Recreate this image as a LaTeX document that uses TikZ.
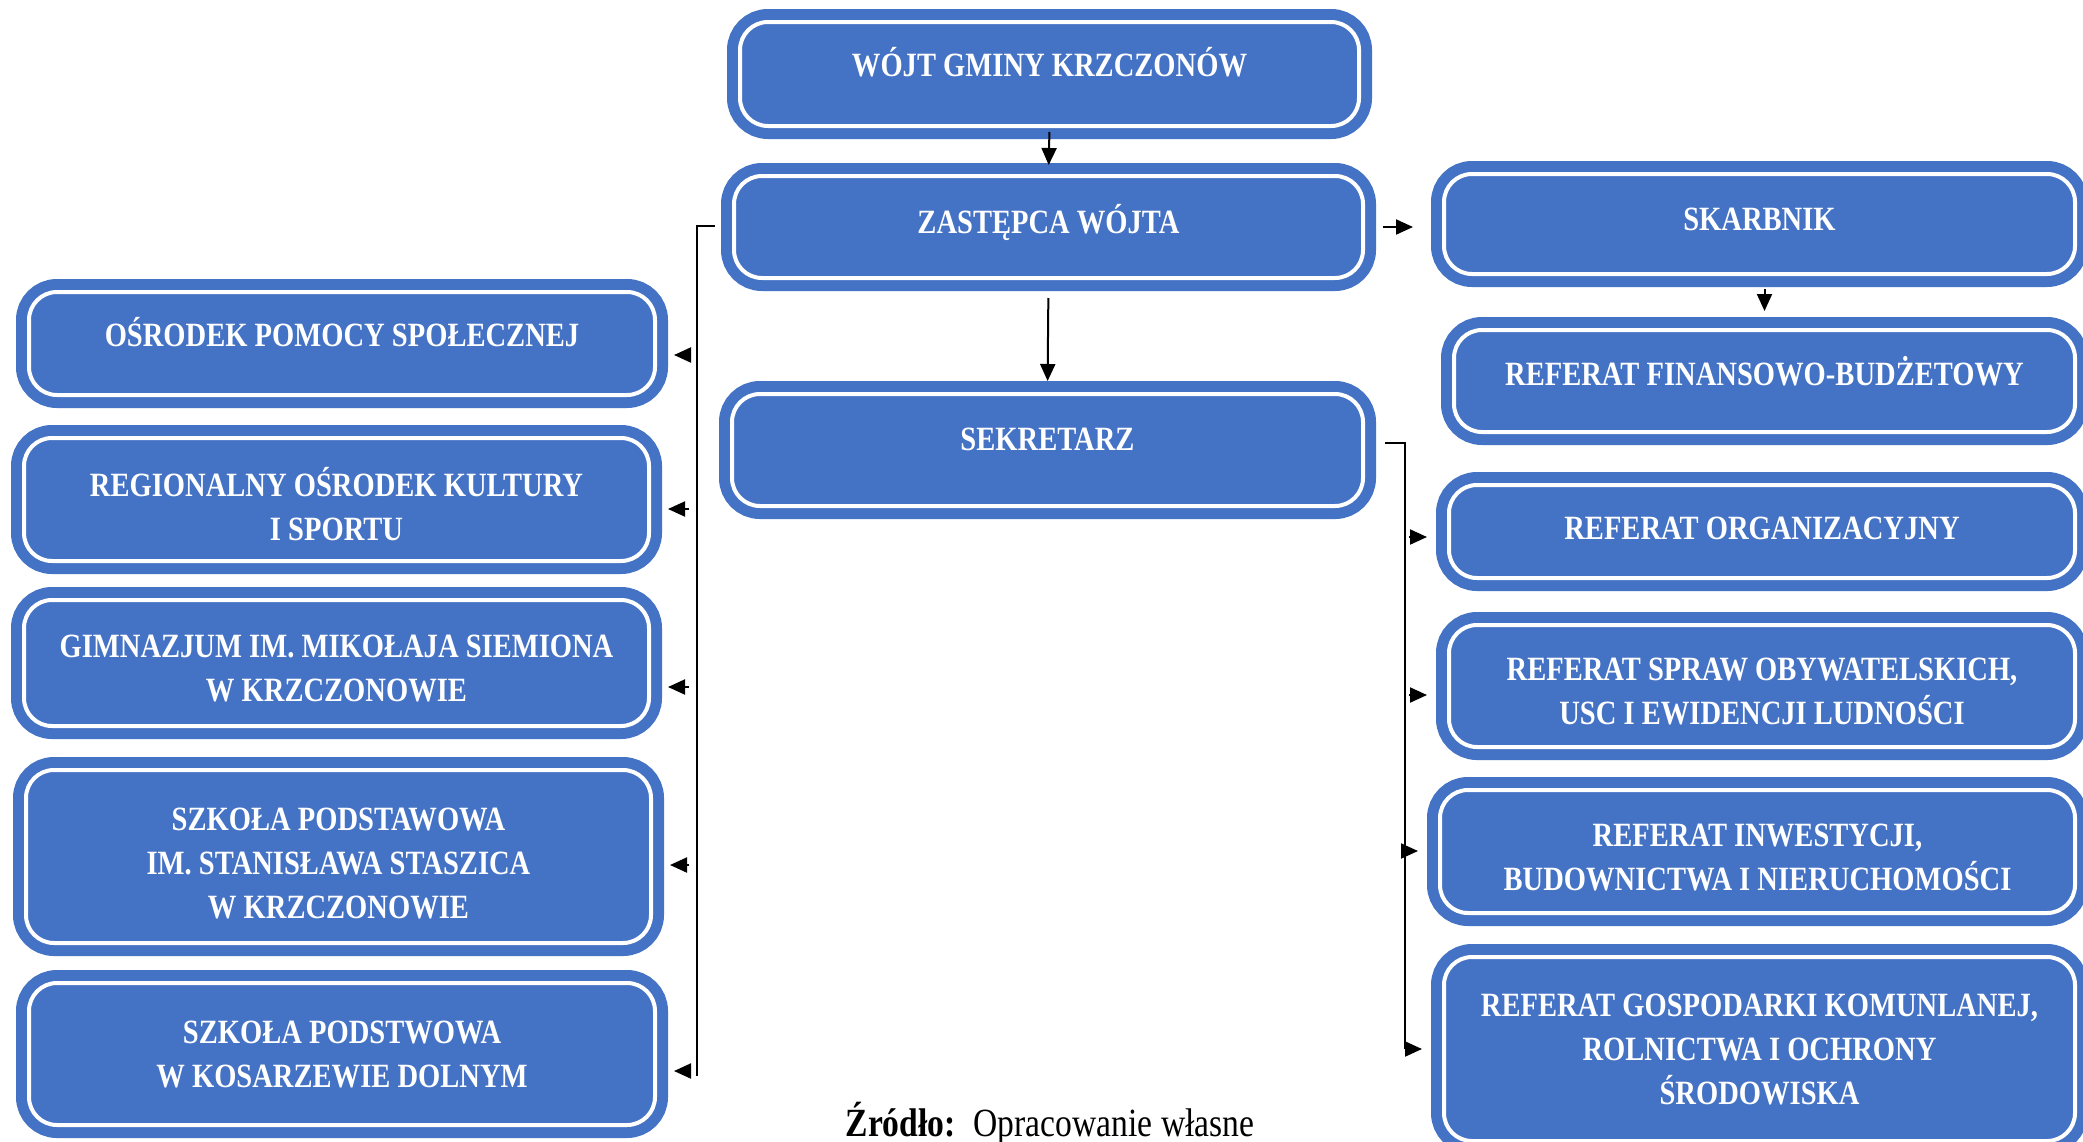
\documentclass[tikz,border=0pt]{standalone}
\usepackage{fontspec}
\setmainfont{Liberation Serif}[FakeStretch=0.84]
\usetikzlibrary{arrows.meta}
\definecolor{boxblue}{HTML}{4472C4}
\newcommand{\firstline}[1]{\rule{0pt}{#1}}

\begin{document}
\begin{tikzpicture}[x=1pt,y=-1pt,
  box/.style={draw=white,line width=4pt,fill=boxblue,rounded corners=28pt,
    preaction={draw=boxblue,line width=26pt},text=white,align=center,
    inner sep=0pt,font=\fontsize{34}{44}\selectfont\bfseries},
  lift/.style={text height=24pt,text depth=#1},
  link/.style={line width=2pt,-{Triangle[length=17pt,width=15pt]}},
  bus/.style={line width=2pt}]
  \useasboundingbox[fill=white] (0,0) rectangle (2083,1141);

  % Middle column
  \node[box,lift=19.5pt,minimum width=619pt,minimum height=104pt] (wojt) at (1049.5,74) {WÓJT GMINY KRZCZONÓW};
  \node[box,lift=11.5pt,minimum width=629pt,minimum height=102pt] (zastepca) at (1048.5,227) {ZASTĘPCA WÓJTA};
  \node[box,lift=23.5pt,minimum width=631pt,minimum height=112pt] (sekretarz) at (1047.5,450) {SEKRETARZ};

  % Right column
  \node[box,lift=11.5pt,minimum width=631pt,minimum height=100pt] (skarbnik) at (1759.5,224) {SKARBNIK};
  \node[box,lift=15.5pt,minimum width=621pt,minimum height=102pt] (finanse) at (1764.5,381) {REFERAT FINANSOWO-BUDŻETOWY};
  \node[box,lift=7.5pt,minimum width=626pt,minimum height=93pt] (organiz) at (1762,531.5) {REFERAT ORGANIZACYJNY};
  \node[box,minimum width=626pt,minimum height=122pt] (obywatel) at (1762,686) {\firstline{32.5pt}REFERAT SPRAW OBYWATELSKICH,\\USC I EWIDENCJI LUDNOŚCI};
  \node[box,minimum width=635pt,minimum height=123pt] (inwest) at (1757.5,851.5) {\firstline{34.5pt}REFERAT INWESTYCJI,\\BUDOWNICTWA I NIERUCHOMOŚCI};
  \node[box,minimum width=631pt,minimum height=184pt] (gospod) at (1759.5,1049) {REFERAT GOSPODARKI KOMUNLANEJ,\\ROLNICTWA I OCHRONY\\ŚRODOWISKA};

  % Left column
  \node[box,lift=17.5pt,minimum width=626pt,minimum height=103pt] (ops) at (342,343.5) {OŚRODEK POMOCY SPOŁECZNEJ};
  \node[box,minimum width=625pt,minimum height=123pt] (rokis) at (336.5,499.5) {\firstline{39pt}REGIONALNY OŚRODEK KULTURY\\I SPORTU};
  \node[box,minimum width=625pt,minimum height=126pt] (gimn) at (336.5,663) {\firstline{32.5pt}GIMNAZJUM IM. MIKOŁAJA SIEMIONA\\W KRZCZONOWIE};
  \node[box,minimum width=625pt,minimum height=173pt] (spkrz) at (338.5,856.5) {\firstline{36.5pt}SZKOŁA PODSTAWOWA\\IM. STANISŁAWA STASZICA\\W KRZCZONOWIE};
  \node[box,minimum width=626pt,minimum height=142pt] (spkos) at (342,1054) {SZKOŁA PODSTWOWA\\W KOSARZEWIE DOLNYM};

  % Source
  \node[anchor=base,font=\fontsize{40}{46}\selectfont] (zrodlo) at (1050,1136) {\textbf{Źródło:}\, Opracowanie własne};

  % Bus points
  \coordinate (lbtop) at (697,226);
  \coordinate (lbbot) at (697,1076);
  \coordinate (la1) at (689,355);
  \coordinate (la2) at (689,509);
  \coordinate (la3) at (689,687);
  \coordinate (la4) at (689,865);
  \coordinate (la5) at (689,1071);
  \coordinate (rbtop) at (1405,443);
  \coordinate (rbbot) at (1405,1049);
  \coordinate (ra1) at (1409,537);
  \coordinate (ra2) at (1409,695);
  \coordinate (ra3) at (1409,851);
  \coordinate (ra4) at (1405,1049);

  % Arrows
  \draw[link,shorten <=4pt,shorten >=9pt] (wojt.south) -- (zastepca.north);
  \draw[link,shorten <=18pt,shorten >=11pt] (zastepca.south) -- (sekretarz.north);
  \draw[link,shorten <=18pt,shorten >=29pt] (zastepca.east) -- (zastepca.east -| skarbnik.west);
  \draw[link,shorten <=13pt,shorten >=17pt] (finanse.north |- skarbnik.south) -- (finanse.north);

  % Left bus
  \draw[bus,shorten <=17pt] (lbtop -| zastepca.west) -- (lbtop) -- (lbbot);
  \draw[link,shorten >=17pt] (la1) -- (la1 -| ops.east);
  \draw[link,shorten >=17pt] (la2) -- (la2 -| rokis.east);
  \draw[link,shorten >=17pt] (la3) -- (la3 -| gimn.east);
  \draw[link,shorten >=17pt] (la4) -- (la4 -| spkrz.east);
  \draw[link,shorten >=17pt] (la5) -- (la5 -| spkos.east);

  % Right bus
  \draw[bus,shorten <=20pt] (rbtop -| sekretarz.east) -- (rbtop) -- (rbbot);
  \draw[link,shorten >=20pt] (ra1) -- (ra1 -| organiz.west);
  \draw[link,shorten >=20pt] (ra2) -- (ra2 -| obywatel.west);
  \draw[link,shorten >=20pt] (ra3) -- (ra3 -| inwest.west);
  \draw[link,shorten >=20pt] (ra4) -- (ra4 -| gospod.west);

\end{tikzpicture}
\end{document}
